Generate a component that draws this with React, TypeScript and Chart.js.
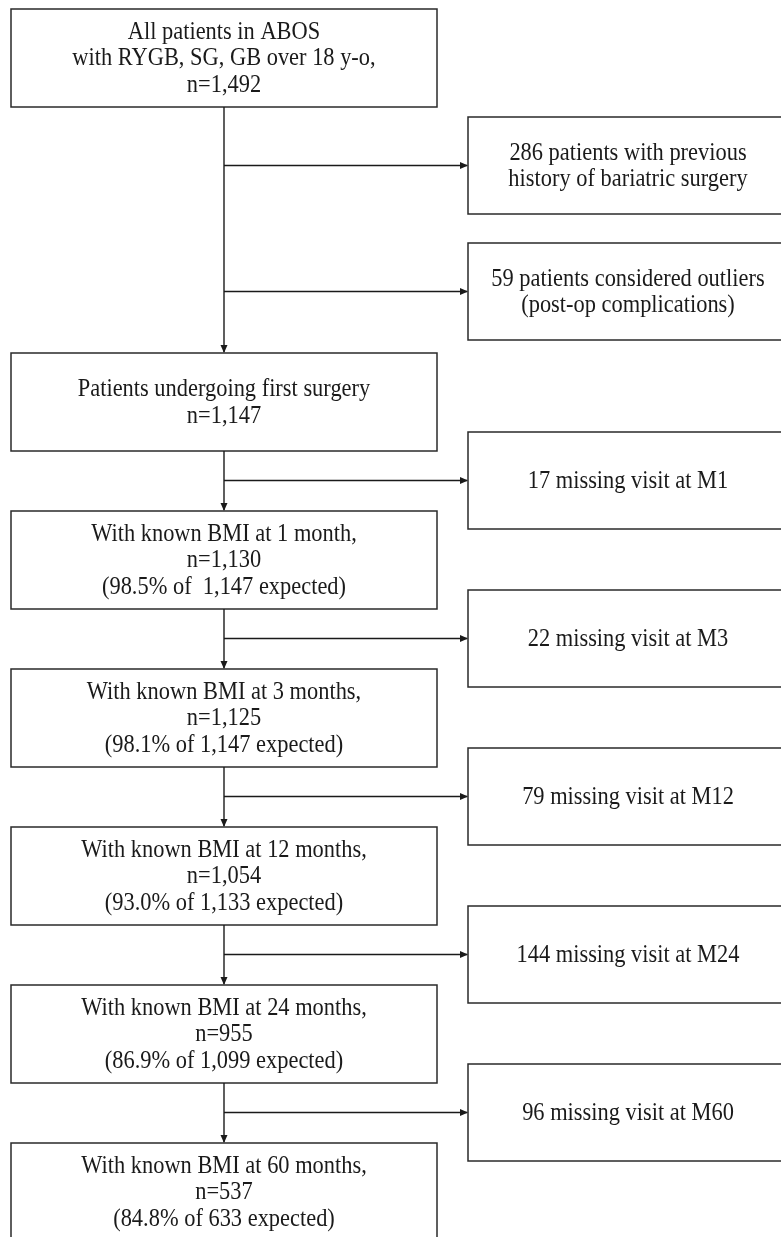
import React, { useEffect, useRef } from "react";
import { Chart, registerables } from "chart.js";

Chart.register(...registerables);

// ---- Data (text content of the flowchart) ----
const mainBoxLabels: string[][] = [
  ["All patients in ABOS", "with RYGB, SG, GB over 18 y-o,", "n=1,492"],
  ["Patients undergoing first surgery", "n=1,147"],
  ["With known BMI at 1 month,", "n=1,130", "(98.5% of  1,147 expected)"],
  ["With known BMI at 3 months,", "n=1,125", "(98.1% of 1,147 expected)"],
  ["With known BMI at 12 months,", "n=1,054", "(93.0% of 1,133 expected)"],
  ["With known BMI at 24 months,", "n=955", "(86.9% of 1,099 expected)"],
  ["With known BMI at 60 months,", "n=537", "(84.8% of 633 expected)"],
];

const exclusionLabels: string[][] = [
  ["286 patients with previous", "history of bariatric surgery"],
  ["59 patients considered outliers", "(post-op complications)"],
  ["17 missing visit at M1"],
  ["22 missing visit at M3"],
  ["79 missing visit at M12"],
  ["144 missing visit at M24"],
  ["96 missing visit at M60"],
];

// ---- Layout (in chart units, pixel-like) ----
const W = 781;
const H = 1237;
const LEFT_X0 = 11;
const LEFT_X1 = 437;
const RIGHT_X0 = 468;
const RIGHT_X1 = 788;
const BOX_H = 97;
const STEP = 158;

function mainTop(i: number): number {
  return i === 0 ? 9 : 353 + (i - 1) * STEP;
}
function exclTop(j: number): number {
  if (j === 0) return 117;
  if (j === 1) return 243;
  return 432 + (j - 2) * STEP;
}

const flowPlugin = {
  id: "flowchart",
  afterDraw(chart: any) {
    const ctx: CanvasRenderingContext2D = chart.ctx;
    const xs = chart.scales.x;
    const ys = chart.scales.y;
    const px = (v: number) => xs.getPixelForValue(v);
    const py = (v: number) => ys.getPixelForValue(v);
    const ink = "#1a1a1a";
    ctx.save();
    ctx.fillStyle = "#ffffff";
    ctx.fillRect(0, 0, chart.width, chart.height);

    const drawBox = (x0: number, y0: number, x1: number, y1: number, lines: string[]) => {
      ctx.strokeStyle = "#2a2a2a";
      ctx.lineWidth = 1.5;
      ctx.strokeRect(px(x0), py(y0), px(x1) - px(x0), py(y1) - py(y0));
      ctx.fillStyle = ink;
      ctx.font = "24.5px 'Liberation Serif', 'Times New Roman', serif";
      ctx.textAlign = "center";
      ctx.textBaseline = "middle";
      const lh = 26.5;
      const cx = (px(x0) + px(x1)) / 2;
      const cy = (py(y0) + py(y1)) / 2 + 1;
      const n = lines.length;
      lines.forEach((t, k) => {
        ctx.save();
        ctx.translate(cx, cy + (k - (n - 1) / 2) * lh);
        ctx.scale(0.915, 1);
        ctx.fillText(t, 0, 0);
        ctx.restore();
      });
    };

    const arrowHead = (x: number, y: number, dir: "down" | "right") => {
      ctx.fillStyle = ink;
      ctx.beginPath();
      if (dir === "down") {
        ctx.moveTo(x, y);
        ctx.lineTo(x - 3.5, y - 8);
        ctx.lineTo(x + 3.5, y - 8);
      } else {
        ctx.moveTo(x, y);
        ctx.lineTo(x - 8, y - 3.5);
        ctx.lineTo(x - 8, y + 3.5);
      }
      ctx.closePath();
      ctx.fill();
    };

    const cxMain = (LEFT_X0 + LEFT_X1) / 2;

    // main boxes
    mainBoxLabels.forEach((lines, i) => {
      const t = mainTop(i);
      drawBox(LEFT_X0, t, LEFT_X1, t + BOX_H + 1, lines);
    });

    // vertical connectors
    for (let i = 0; i < mainBoxLabels.length - 1; i++) {
      const yb = mainTop(i) + BOX_H + 1;
      const yt = mainTop(i + 1);
      ctx.strokeStyle = ink;
      ctx.lineWidth = 1.4;
      ctx.beginPath();
      ctx.moveTo(px(cxMain), py(yb));
      ctx.lineTo(px(cxMain), py(yt) - 1);
      ctx.stroke();
      arrowHead(px(cxMain), py(yt), "down");
    }

    // exclusion boxes + branch arrows
    exclusionLabels.forEach((lines, j) => {
      const t = exclTop(j);
      drawBox(RIGHT_X0, t, RIGHT_X1, t + BOX_H, lines);
      const ay = t + BOX_H / 2;
      ctx.strokeStyle = ink;
      ctx.lineWidth = 1.4;
      ctx.beginPath();
      ctx.moveTo(px(cxMain), py(ay));
      ctx.lineTo(px(RIGHT_X0) - 1, py(ay));
      ctx.stroke();
      arrowHead(px(RIGHT_X0), py(ay), "right");
    });

    ctx.restore();
  },
};

export default function App() {
  const ref = useRef<HTMLCanvasElement | null>(null);
  useEffect(() => {
    document.body.style.margin = "0";
    document.body.style.overflow = "hidden";
    const canvas = ref.current;
    if (!canvas) return;
    const chart = new Chart(canvas, {
      type: "scatter",
      data: { datasets: [{ data: [] }] },
      options: {
        responsive: false,
        animation: false,
        devicePixelRatio: 1,
        layout: { padding: 0 },
        plugins: { legend: { display: false }, tooltip: { enabled: false } },
        scales: {
          x: { type: "linear", min: 0, max: W, display: false },
          y: { type: "linear", min: 0, max: H, reverse: true, display: false },
        },
      },
      plugins: [flowPlugin],
    });
    return () => chart.destroy();
  }, []);
  return (
    <canvas
      ref={ref}
      width={W}
      height={H}
      style={{ display: "block", width: W, height: H }}
    />
  );
}
